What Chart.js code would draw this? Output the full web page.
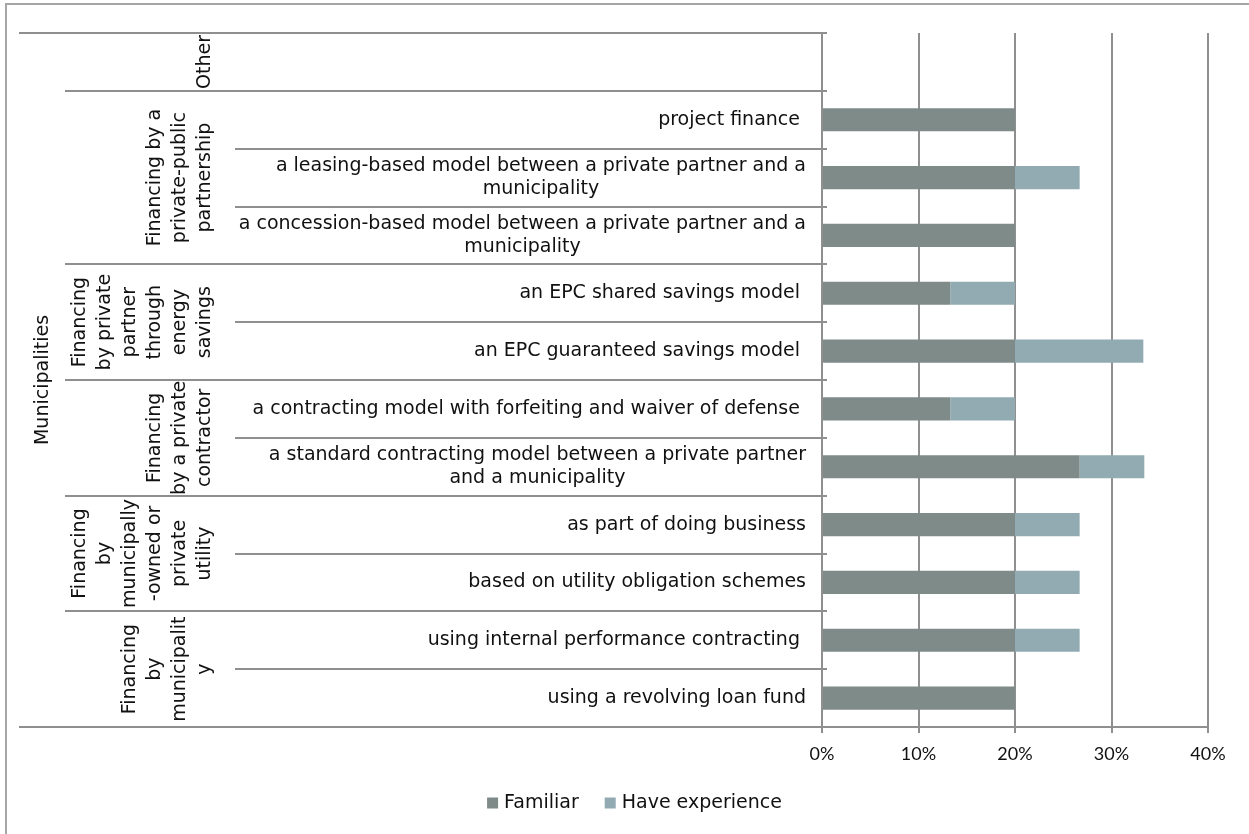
<!DOCTYPE html>
<html>
<head>
<meta charset="utf-8">
<script src="https://cdn.jsdelivr.net/npm/chart.js@4/dist/chart.umd.min.js"></script>
<style>
  html, body { margin: 0; padding: 0; background: #ffffff; }
  #wrap { width: 1249px; height: 834px; position: relative; }
</style>
</head>
<body>
<div id="wrap"><canvas id="c" width="1249" height="834"></canvas></div>
<script>
// Financing models, top to bottom (each entry is one category, split into display lines)
const categories = [
  [''],
  ['project finance '],
  ['a leasing-based model between a private partner and a', 'municipality'],
  ['a concession-based model between a private partner and a', 'municipality'],
  ['an EPC shared savings model '],
  ['an EPC guaranteed savings model '],
  ['a contracting model with forfeiting and waiver of defense '],
  ['a standard contracting model between a private partner', 'and a municipality'],
  ['as part of doing business'],
  ['based on utility obligation schemes'],
  ['using internal performance contracting '],
  ['using a revolving loan fund']
];

// Financing groups (second level) and how many categories each spans
const groupLabels = [
  ['Other'],
  ['Financing by a', 'private-public', 'partnership'],
  ['Financing', 'by private', 'partner', 'through', 'energy', 'savings'],
  ['Financing', 'by a private', 'contractor'],
  ['Financing', 'by', 'municipally', '-owned or', 'private', 'utility'],
  ['Financing', 'by', 'municipalit', 'y']
];
const groupSizes = [1, 3, 2, 2, 2, 2];

// Top level
const topLabel = 'Municipalities';

// Shares of respondents (%)
const familiar =       [0, 20, 20,  20, 13.3, 20,   13.3, 26.7, 20,  20,  20,  20];
const haveExperience = [0, 0,  6.7, 0,  6.7,  13.3, 6.7,  6.7,  6.7, 6.7, 6.7, 0];

const xTicks = [0, 10, 20, 30, 40];
const seriesNames = ['Familiar', 'Have experience'];
const seriesColors = ['#7f8b89', '#92abb2'];

const FONT = '"DejaVu Sans", "Open Sans", sans-serif';
const TICK_FONT = 'Lato, "Open Sans", sans-serif';
const LINE = '#8f8f8f';
const TEXT = '#111111';

// Draws the frame, the multi-level category axis and the legend
const hierarchyAxis = {
  id: 'hierarchyAxis',
  beforeDraw(chart) {
    const ctx = chart.ctx;
    ctx.save();
    ctx.fillStyle = '#ffffff';
    ctx.fillRect(0, 0, chart.width, chart.height);
    ctx.strokeStyle = '#a6a6a6';
    ctx.lineWidth = 2;
    ctx.beginPath();
    ctx.moveTo(6, chart.height);
    ctx.lineTo(6, 4);
    ctx.lineTo(chart.width, 4);
    ctx.stroke();
    ctx.restore();
  },
  afterDraw(chart) {
    const ctx = chart.ctx;
    const area = chart.chartArea;
    const y = chart.scales.y;
    const edge = i => y.getPixelForValue(i - 0.5);
    const x1 = 235, x2 = 65, x3 = 19;
    const axisX = area.left;

    ctx.save();
    ctx.strokeStyle = LINE;
    ctx.lineWidth = 2;

    // group boundaries
    const groupEdges = [0];
    groupSizes.forEach(s => groupEdges.push(groupEdges[groupEdges.length - 1] + s));

    // category separators
    for (let i = 0; i <= categories.length; i++) {
      const py = Math.round(edge(i));
      let startX = x1;
      if (groupEdges.includes(i)) startX = x2;
      if (i === 0 || i === categories.length) startX = x3;
      ctx.beginPath();
      ctx.moveTo(startX, py);
      ctx.lineTo(axisX + 5, py);
      ctx.stroke();
    }

    ctx.fillStyle = TEXT;
    ctx.font = '19px ' + FONT;
    ctx.textBaseline = 'middle';
    const lh = 23;

    // first level: right-aligned block, lines centred within it
    categories.forEach((lines, i) => {
      const cy = y.getPixelForValue(i);
      const widths = lines.map(l => ctx.measureText(l).width);
      const blockW = Math.max(...widths);
      const right = axisX - 16;
      const centreX = right - blockW / 2;
      ctx.textAlign = 'center';
      lines.forEach((l, k) => {
        const ly = cy + (k - (lines.length - 1) / 2) * lh;
        ctx.fillText(l, centreX, ly);
      });
    });

    // second level: rotated, last line anchored near the level-one column
    ctx.textAlign = 'center';
    ctx.textBaseline = 'alphabetic';
    groupLabels.forEach((lines, g) => {
      const top = edge(groupEdges[g]);
      const bottom = edge(groupEdges[g + 1]);
      const cy = (top + bottom) / 2;
      const lastBase = 210;
      lines.forEach((l, k) => {
        const bx = lastBase - (lines.length - 1 - k) * 25;
        ctx.save();
        ctx.translate(bx, cy);
        ctx.rotate(-Math.PI / 2);
        ctx.fillText(l, 0, 0);
        ctx.restore();
      });
    });

    // third level
    ctx.save();
    ctx.translate(48, (edge(0) + edge(categories.length)) / 2);
    ctx.rotate(-Math.PI / 2);
    ctx.fillText(topLabel, 0, 0);
    ctx.restore();

    // legend
    ctx.font = '19px ' + FONT;
    ctx.textAlign = 'left';
    ctx.textBaseline = 'middle';
    const box = 11, gapText = 6, gapItem = 26;
    const ds = chart.data.datasets;
    const w = ds.map(d => ctx.measureText(d.label).width);
    let total = 0;
    w.forEach((tw, i) => { total += box + gapText + tw + (i < w.length - 1 ? gapItem : 0); });
    let lx = 634.5 - total / 2;
    const ly = 803;
    ds.forEach((d, i) => {
      ctx.fillStyle = d.backgroundColor;
      ctx.fillRect(lx, ly - box / 2, box, box);
      ctx.fillStyle = TEXT;
      ctx.fillText(d.label, lx + box + gapText, ly);
      lx += box + gapText + w[i] + gapItem;
    });

    ctx.restore();
  }
};

new Chart(document.getElementById('c'), {
  type: 'bar',
  data: {
    labels: categories,
    datasets: [
      { label: seriesNames[0], data: familiar, backgroundColor: seriesColors[0], borderWidth: 0 },
      { label: seriesNames[1], data: haveExperience, backgroundColor: seriesColors[1], borderWidth: 0 }
    ]
  },
  options: {
    indexAxis: 'y',
    responsive: false,
    animation: false,
    devicePixelRatio: 1,
    categoryPercentage: 0.8,
    barPercentage: 0.5,
    layout: { padding: { left: 822, right: 41, top: 33, bottom: 67 } },
    plugins: { legend: { display: false }, tooltip: { enabled: false } },
    scales: {
      y: { display: false, stacked: true },
      x: {
        stacked: true,
        min: 0,
        max: 40,
        afterBuildTicks: s => { s.ticks = xTicks.map(v => ({ value: v })); },
        afterFit: s => { s.height = 40; },
        grid: { color: LINE, lineWidth: 2, tickLength: 6, drawTicks: true, tickColor: LINE },
        border: { display: true, color: LINE, width: 2 },
        ticks: {
          padding: 10,
          color: TEXT,
          font: { family: TICK_FONT, size: 18 },
          callback: v => v + '%'
        }
      }
    }
  },
  plugins: [hierarchyAxis]
});
</script>
</body>
</html>
